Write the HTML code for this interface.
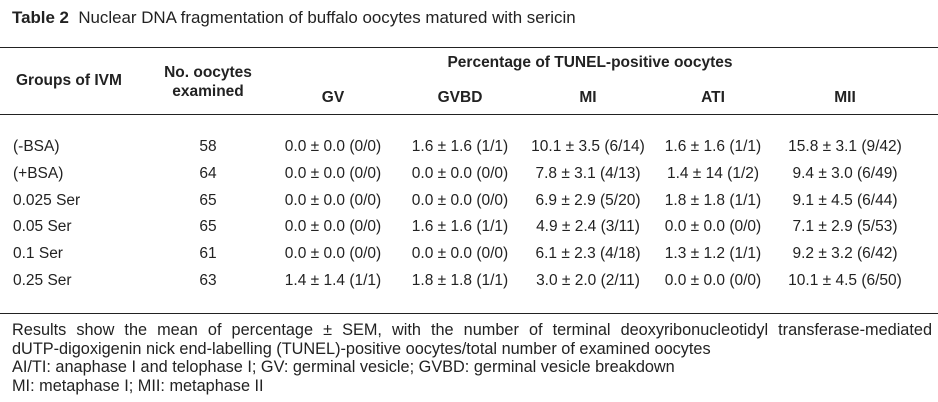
<!DOCTYPE html>
<html><head><meta charset="utf-8"><style>
body{margin:0;width:938px;height:402px;background:#fff;font-family:"Liberation Sans",Arial,sans-serif;color:#222;position:relative;overflow:hidden}
.a{position:absolute;white-space:nowrap;font-size:15.5px;line-height:17px}
.c{transform:translateX(-50%)}
.b{font-weight:bold}
.line{position:absolute;left:0;width:938px;height:1px;background:#222}
.j{display:block;text-align:justify;text-align-last:justify;width:920px}
</style></head><body>
<div class="a" style="left:12px;top:8px;font-size:16.9px;line-height:20px"><b>Table 2</b>&nbsp; Nuclear DNA fragmentation of buffalo oocytes matured with sericin</div>
<div class="line" style="top:47px"></div>
<div class="line" style="top:114px"></div>
<div class="line" style="top:313px"></div>
<div class="a b" style="left:16px;top:72px">Groups of IVM</div>
<div class="a b c" style="left:208px;top:63px;text-align:center;line-height:19px">No. oocytes<br>examined</div>
<div class="a b c" style="left:590px;top:54px">Percentage of TUNEL-positive oocytes</div>
<div id="rows"></div>
<div class="a" style="left:12px;top:321px;line-height:18.5px;width:920px;font-size:16.3px"><span class="j">Results show the mean of percentage ± SEM, with the number of terminal deoxyribonucleotidyl transferase-mediated</span>dUTP-digoxigenin nick end-labelling (TUNEL)-positive oocytes/total number of examined oocytes<br>AI/TI: anaphase I and telophase I; GV: germinal vesicle; GVBD: germinal vesicle breakdown<br>MI: metaphase I; MII: metaphase II</div>
<script>
const subHeaders=["GV","GVBD","MI","ATI","MII"];
const groups=["(-BSA)","(+BSA)","0.025 Ser","0.05 Ser","0.1 Ser","0.25 Ser"];
const counts=["58","64","65","65","61","63"];
const cells=[
["0.0 ± 0.0 (0/0)","1.6 ± 1.6 (1/1)","10.1 ± 3.5 (6/14)","1.6 ± 1.6 (1/1)","15.8 ± 3.1 (9/42)"],
["0.0 ± 0.0 (0/0)","0.0 ± 0.0 (0/0)","7.8 ± 3.1 (4/13)","1.4 ± 14 (1/2)","9.4 ± 3.0 (6/49)"],
["0.0 ± 0.0 (0/0)","0.0 ± 0.0 (0/0)","6.9 ± 2.9 (5/20)","1.8 ± 1.8 (1/1)","9.1 ± 4.5 (6/44)"],
["0.0 ± 0.0 (0/0)","1.6 ± 1.6 (1/1)","4.9 ± 2.4 (3/11)","0.0 ± 0.0 (0/0)","7.1 ± 2.9 (5/53)"],
["0.0 ± 0.0 (0/0)","0.0 ± 0.0 (0/0)","6.1 ± 2.3 (4/18)","1.3 ± 1.2 (1/1)","9.2 ± 3.2 (6/42)"],
["1.4 ± 1.4 (1/1)","1.8 ± 1.8 (1/1)","3.0 ± 2.0 (2/11)","0.0 ± 0.0 (0/0)","10.1 ± 4.5 (6/50)"]];
const colX=[333,460,588,713,845];
const root=document.getElementById('rows');
function mk(t,x,y,center,bold){const d=document.createElement('div');d.className='a'+(center?' c':'')+(bold?' b':'');d.style.left=x+'px';d.style.top=y+'px';d.textContent=t;root.appendChild(d);return d;}
subHeaders.forEach((h,i)=>{const d=mk(h,colX[i],89,true,true);

});
groups.forEach((g,r)=>{const y=138+r*26.8;
const d=mk(g,13,y,false,false);


const n=mk(counts[r],208,y,true,false);


cells[r].forEach((v,i)=>{const e=mk(v,colX[i],y,true,false);

});});
</script>
</body></html>
